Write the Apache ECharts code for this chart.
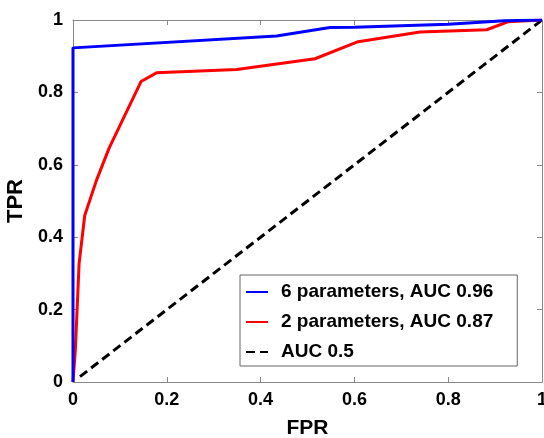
<!DOCTYPE html>
<html>
<head>
<meta charset="utf-8">
<script src="https://cdn.jsdelivr.net/npm/echarts@6/dist/echarts.min.js"></script>
<style>
  html, body { margin: 0; padding: 0; background: #fff; }
  #roc { width: 544px; height: 438px; }
</style>
</head>
<body>
<div id="roc"></div>
<script>
// ROC curves
const sixFpr = [0, 0, 0.434, 0.548, 0.6, 0.8, 0.92, 1];
const sixTpr = [0, 0.923, 0.956, 0.979, 0.98, 0.988, 0.998, 1];
const twoFpr = [0, 0.005, 0.013, 0.025, 0.05, 0.077, 0.145, 0.178, 0.349, 0.516, 0.608, 0.74, 0.882, 0.927, 1];
const twoTpr = [0, 0.088, 0.327, 0.46, 0.557, 0.646, 0.83, 0.854, 0.863, 0.893, 0.94, 0.967, 0.973, 0.995, 1];
const chanceFpr = [0.015, 1];
const chanceTpr = [0.015, 1];
const seriesNames = ["6 parameters, AUC 0.96", "2 parameters, AUC 0.87", "AUC 0.5"];

const zip = (xs, ys) => xs.map((x, i) => [x, ys[i]]);

const font = "Liberation Sans";
const boxLine = { show: true, onZero: false, lineStyle: { color: "#888", width: 1 } };
const innerTick = { show: true, inside: true, length: 5, lineStyle: { color: "#888" } };

let chart = echarts.init(document.getElementById("roc"));
chart.setOption({
  animation: false,
  grid: { left: 73, right: 2, top: 20, bottom: 56, outerBoundsMode: "none", containLabel: false },
  legend: {
    orient: "vertical",
    left: 240,
    top: 275,
    data: seriesNames,
    backgroundColor: "#fff",
    borderColor: "#666",
    borderWidth: 1,
    borderRadius: 0,
    padding: [7, 24, 4, 5],
    itemWidth: 22,
    itemHeight: 14,
    itemGap: 10,
    lineStyle: { width: 2 },
    itemStyle: { opacity: 0, borderWidth: 0 },
    textStyle: { fontFamily: font, fontWeight: "bold", fontSize: 19, color: "#000", lineHeight: 20, padding: [0, 0, 0, 8] }
  },
  xAxis: [
    {
      type: "value", min: 0, max: 1, interval: 0.2,
      name: "FPR", nameLocation: "middle", nameGap: 36,
      nameTextStyle: { fontFamily: font, fontWeight: "bold", fontSize: 21, color: "#000" },
      axisLine: boxLine, axisTick: innerTick, splitLine: { show: false },
      axisLabel: { fontFamily: font, fontWeight: "bold", fontSize: 18, color: "#000", margin: 9 }
    },
    {
      type: "value", position: "top", min: 0, max: 1, interval: 0.2,
      axisLine: boxLine, axisTick: innerTick, splitLine: { show: false },
      axisLabel: { show: false }
    }
  ],
  yAxis: [
    {
      type: "value", min: 0, max: 1, interval: 0.2,
      name: "TPR", nameLocation: "middle", nameGap: 40,
      nameTextStyle: { fontFamily: font, fontWeight: "bold", fontSize: 22, color: "#000" },
      axisLine: boxLine, axisTick: innerTick, splitLine: { show: false },
      axisLabel: { fontFamily: font, fontWeight: "bold", fontSize: 18, color: "#000", margin: 10 }
    },
    {
      type: "value", position: "right", min: 0, max: 1, interval: 0.2,
      axisLine: boxLine, axisTick: innerTick, splitLine: { show: false },
      axisLabel: { show: false }
    }
  ],
  series: [
    {
      name: seriesNames[0], type: "line", symbol: "none", z: 4,
      data: zip(sixFpr, sixTpr),
      lineStyle: { color: "#0000ff", width: 3 }, itemStyle: { color: "#0000ff" }
    },
    {
      name: seriesNames[1], type: "line", symbol: "none", z: 3,
      data: zip(twoFpr, twoTpr),
      lineStyle: { color: "#ff0000", width: 3 }, itemStyle: { color: "#ff0000" }
    },
    {
      name: seriesNames[2], type: "line", symbol: "none", z: 2,
      data: zip(chanceFpr, chanceTpr),
      lineStyle: { color: "#000", width: 3, type: [9, 5] }, itemStyle: { color: "#000" }
    }
  ]
});
window.addEventListener("resize", function() {
  chart.resize();
});
</script>
</body>
</html>
